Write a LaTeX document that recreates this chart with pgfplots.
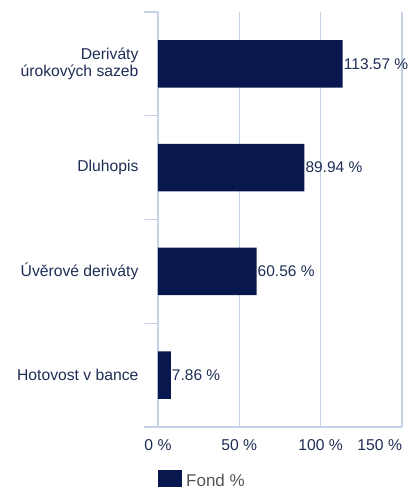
\documentclass[border=0pt]{standalone}
\usepackage{pgfplots}
\pgfplotsset{compat=1.18}
\usepackage{fontspec}
\setmainfont{Liberation Sans}
\definecolor{barcol}{RGB}{8,24,78}
\definecolor{txtcol}{RGB}{30,45,85}
\definecolor{gridcol}{RGB}{198,210,230}
\definecolor{legcol}{RGB}{85,85,85}

\begin{document}
\begin{tikzpicture}
\begin{axis}[
    scale only axis,
    width=244pt,
    height=415pt,
    xbar,
    bar width=0.46,
    xmin=0, xmax=150,
    ymin=-0.5, ymax=3.5,
    enlargelimits=false,
    axis x line*=bottom,
    axis y line*=left,
    axis line style={-, draw=gridcol, line width=1.2pt},
    xtick={0,50,100,150},
    xticklabels={0 \%, 50 \%, 100 \%, \makebox[0pt][r]{150 \%}},
    xmajorgrids,
    grid style={draw=gridcol, line width=1.2pt},
    major tick length=0pt,
    ytick={0,1,2,3},
    yticklabels={Hotovost v bance, Úvěrové deriváty, Dluhopis, Deriváty\\úrokových sazeb},
    extra y ticks={-0.5,0.5,1.5,2.5,3.5},
    extra y tick labels={},
    extra y tick style={major tick length=14pt, tick align=outside,
        tick style={draw=gridcol, line width=1.2pt}},
    tick label style={font=\fontsize{15.7}{17.5}\selectfont, text=txtcol},
    yticklabel style={align=right, xshift=-16pt},
    xticklabel style={yshift=-9pt},
    /pgf/number format/assume math mode=true,
    nodes near coords={\pgfmathprintnumber[fixed,fixed zerofill,precision=2,assume math mode=true]{\pgfplotspointmeta}~\%},
    point meta=x,
    every node near coord/.append style={font=\fontsize{15.5}{17.5}\selectfont, text=txtcol, anchor=west, inner xsep=1pt},
    legend style={at={(axis description cs:0,0)}, anchor=north west, yshift=-43pt,
        draw=none, inner sep=0pt, font=\fontsize{17}{19}\selectfont, text=legcol,
        cells={anchor=west}},
    legend image code/.code={\fill[barcol] (0pt,-6pt) rectangle (24pt,11pt);},
    legend cell align=left,
]
\addplot[draw=none, fill=barcol] coordinates {
    (7.86,0)
    (60.56,1)
    (89.94,2)
    (113.57,3)
};
\addlegendentry{\hspace*{2pt}Fond \%}
\end{axis}
\pgfresetboundingbox
\path (current axis.south west) ++(-158pt,-63pt) rectangle ++(409pt,490pt);
\end{tikzpicture}
\end{document}
